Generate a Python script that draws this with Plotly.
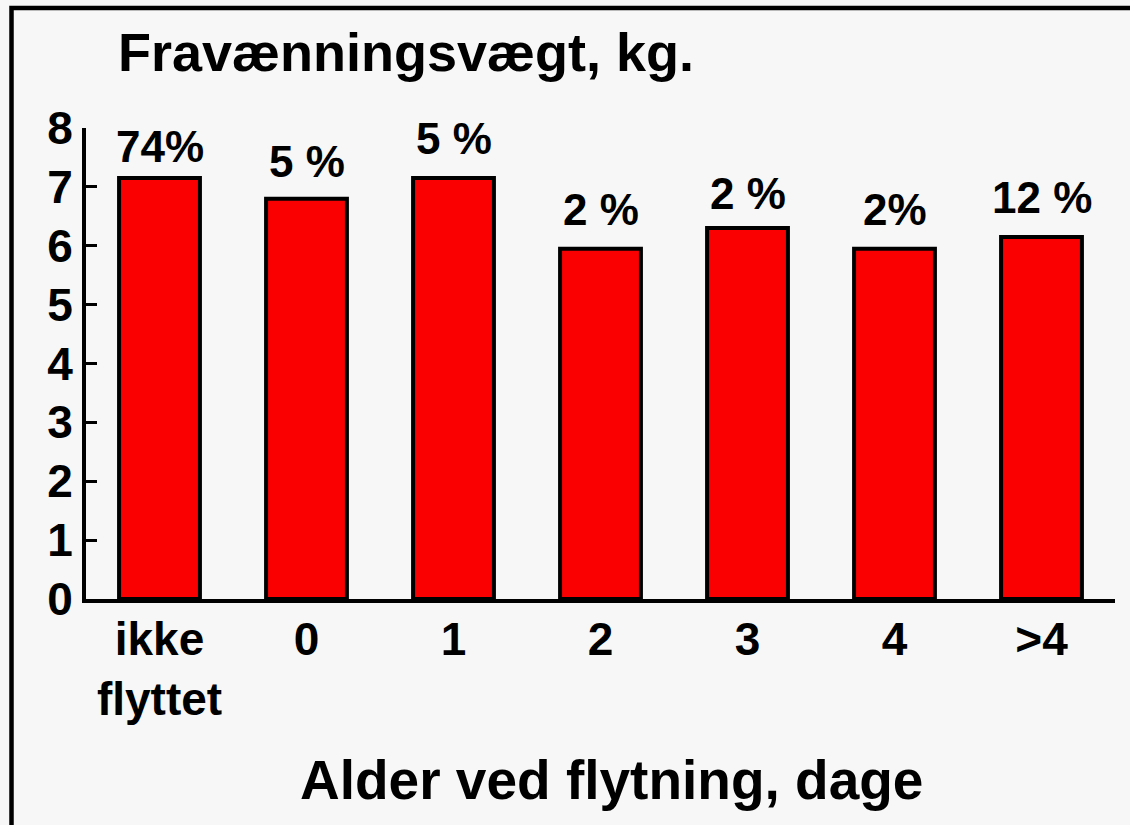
import plotly.graph_objects as go

# ---- data ----
categories = ["ikke<br>flyttet", "0", "1", "2", "3", "4", ">4"]
weights = [7.15, 6.8, 7.15, 5.95, 6.3, 5.95, 6.15]
share_labels = ["74%", "5 %", "5 %", "2 %", "2 %", "2%", "12 %"]
label_gap = [13, 19, 21, 21, 16, 21, 21]  # px between label baseline and bar top
y_ticks = [0, 1, 2, 3, 4, 5, 6, 7, 8]
title_text = "Fravænningsvægt, kg."
xaxis_title = "Alder ved flytning, dage"

# ---- geometry (pixels) ----
W, H = 1130, 825
L, R, T, B = 86, 15, 128, 226
PW, PH = W - L - R, H - T - B
FONT = "Liberation Sans"
BG = "#f7f7f7"
RED = "#fa0000"


def px_x(p):
    return (p - L) / PW


def px_y(p):
    return (H - B - p) / PH


fig = go.Figure()
fig.add_trace(go.Bar(
    x=categories, y=weights,
    marker=dict(color=RED, line=dict(color="black", width=4)),
    width=0.55,
    hoverinfo="skip",
))

annotations = []
desc = 44 * 0.212 + 1
for i, (v, t, g) in enumerate(zip(weights, share_labels, label_gap)):
    annotations.append(dict(
        x=i, y=v, xref="x", yref="y", text=t, showarrow=False,
        xanchor="center", yanchor="bottom", yshift=g + 2 - desc,
        font=dict(family=FONT, size=44, color="black", weight="bold"),
    ))

# title
annotations.append(dict(
    x=px_x(116), y=px_y(72 + 54 * 0.212 + 1), xref="paper", yref="paper",
    text=title_text, showarrow=False, xanchor="left", yanchor="bottom",
    font=dict(family=FONT, size=54, color="black", weight="bold"),
))
# x axis title
annotations.append(dict(
    x=px_x(611.5), y=px_y(800 + 55 * 0.212 + 1), xref="paper", yref="paper",
    text=xaxis_title, showarrow=False, xanchor="center", yanchor="bottom",
    font=dict(family=FONT, size=55, color="black", weight="bold"),
))

fig.update_layout(
    width=W, height=H,
    margin=dict(l=L, r=R, t=T, b=B, pad=0),
    paper_bgcolor=BG, plot_bgcolor=BG,
    showlegend=False,
    annotations=annotations,
    bargap=0.45,
    shapes=[dict(
        type="rect", xref="paper", yref="paper",
        x0=px_x(11.5), x1=px_x(1200), y0=px_y(8), y1=px_y(900),
        line=dict(color="black", width=4.5), fillcolor="rgba(0,0,0,0)",
        layer="below",
    )],
)
fig.update_xaxes(
    showline=True, linecolor="black", linewidth=4,
    ticks="", showgrid=False, zeroline=False,
    tickfont=dict(family=FONT, size=46, color="black", weight="bold"),
    ticklabelstandoff=-3,
    fixedrange=True,
)
fig.update_yaxes(
    range=[0, 8], tickvals=y_ticks,
    showline=True, linecolor="black", linewidth=4,
    ticks="inside", ticklen=11, tickwidth=3, tickcolor="black",
    showgrid=False, zeroline=False,
    tickfont=dict(family=FONT, size=46, color="black", weight="bold"),
    fixedrange=True,
)

fig.write_html("out.html", config={"displayModeBar": False},
               post_script="document.body.style.margin='0';")
